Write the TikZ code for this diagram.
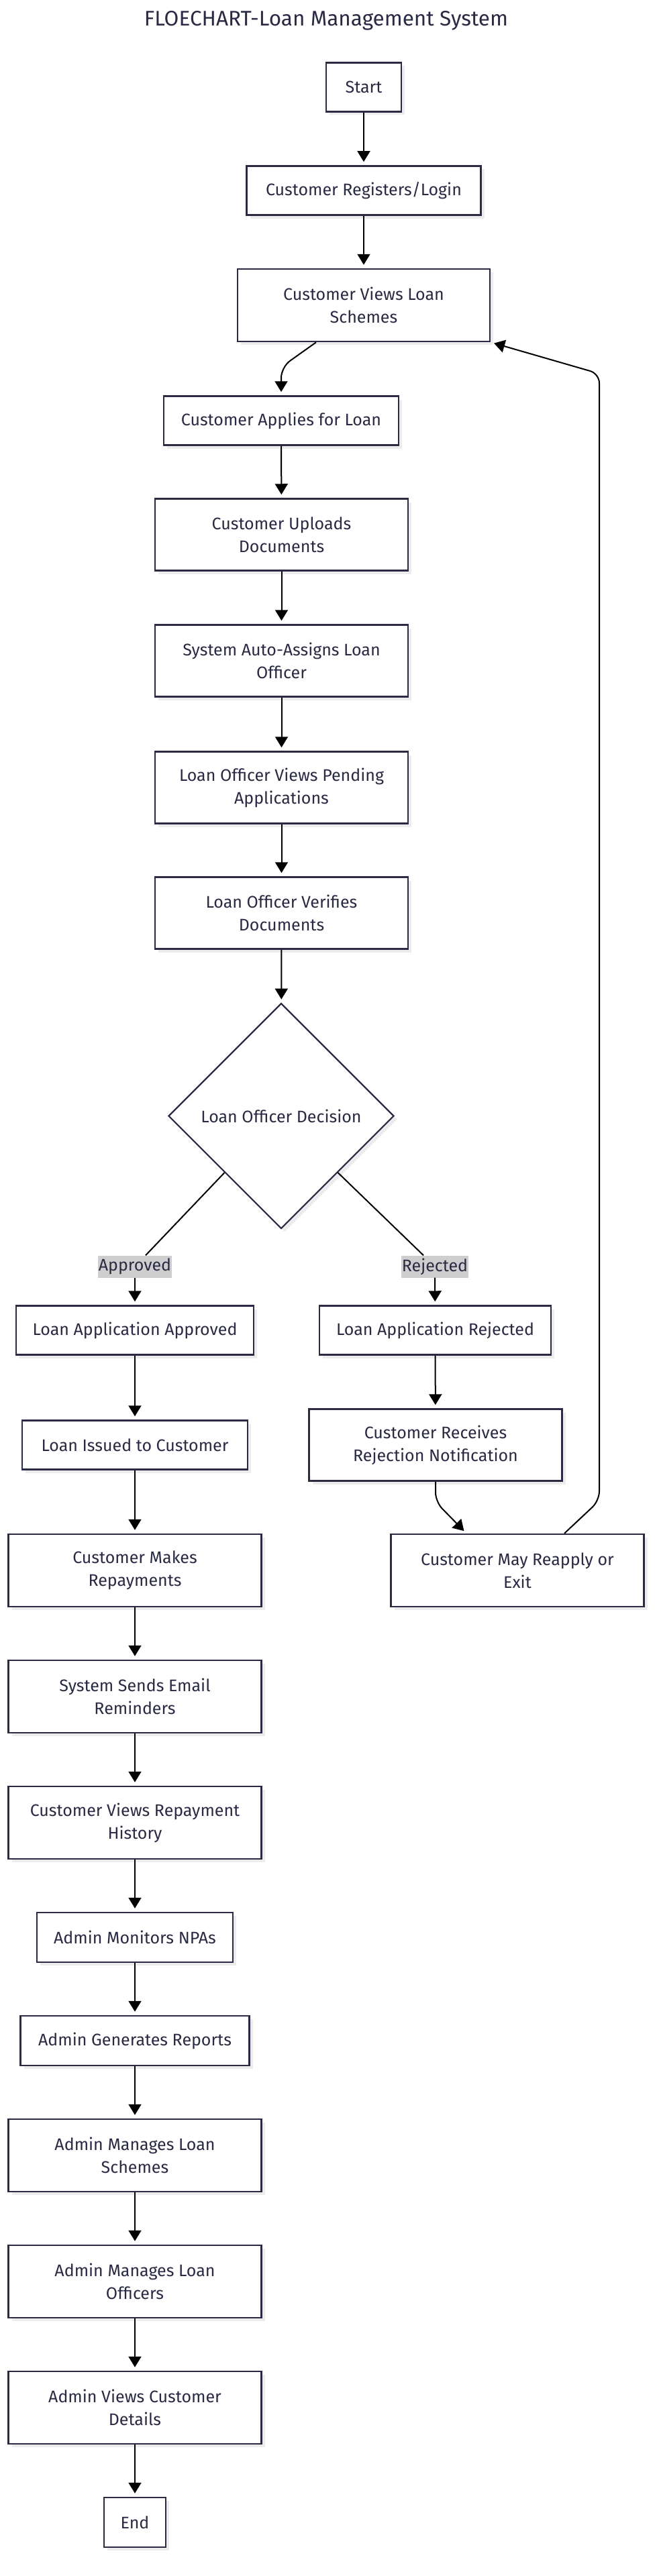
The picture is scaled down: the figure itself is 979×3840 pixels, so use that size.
\documentclass[tikz,border=0pt]{standalone}
\usepackage{fontspec}
\setmainfont{Fira Sans}
\usetikzlibrary{arrows.meta,shapes.geometric,shadows,calc}
\definecolor{ink}{RGB}{42,42,68}
\definecolor{shade}{RGB}{236,236,236}
\definecolor{lblbg}{RGB}{206,206,206}
\begin{document}
\begin{tikzpicture}[x=1pt,y=-1pt,
  txt/.style={font=\fontsize{25}{34}\selectfont, text=ink},
  box/.style={txt, draw=ink, line width=2.5pt, fill=white, align=center, inner sep=0pt,
    general shadow={shadow xshift=5pt, shadow yshift=-5pt, fill=shade}},
  bx/.style 2 args={box, minimum width=#1pt, minimum height=#2pt},
  lbl/.style={txt, fill=lblbg, inner xsep=1pt, inner ysep=0pt, minimum height=33pt},
  line/.style={draw=black, line width=2pt},
  conn/.style={line, -{Triangle[length=16pt,width=19pt]}, shorten >=5pt},
]
\fill[white] (0,0) rectangle (979,3840);
\useasboundingbox (0,0) rectangle (979,3840);

\node[font=\fontsize{31.5}{36}\selectfont, text=ink] (title) at (486,31) {FLOECHART-Loan Management System};

\node[bx={112}{73}] (start) at (542,130) {Start};
\node[bx={349}{73}] (reg) at (542,284) {Customer Registers/Login};
\node[bx={376}{108}] (views) at (542,455) {Customer Views Loan\\Schemes};
\node[bx={350}{73}] (apply) at (419,627) {Customer Applies for Loan};
\node[bx={377}{107}] (upload) at (419.5,797) {Customer Uploads\\Documents};
\node[bx={377}{107}] (assign) at (419.5,985) {System Auto-Assigns Loan\\Officer};
\node[bx={377}{107}] (pending) at (419.5,1174) {Loan Officer Views Pending\\Applications};
\node[bx={377}{107}] (verify) at (419.5,1361) {Loan Officer Verifies\\Documents};
\node[diamond, draw=ink, line width=2.2pt, fill=white, minimum width=336pt, minimum height=336pt,
  inner sep=0pt, txt, general shadow={shadow xshift=5pt, shadow yshift=-5pt, fill=shade}]
  (decision) at (419,1663.5) {Loan Officer Decision};

\node[lbl] (lblA) at (201,1888) {Approved};
\node[lbl] (lblR) at (648,1888) {Rejected};

\node[bx={354}{73}] (approved) at (201,1983) {Loan Application Approved};
\node[bx={345}{73}] (rejected) at (648.5,1983) {Loan Application Rejected};
\node[bx={336}{73}] (issued) at (201,2154) {Loan Issued to Customer};
\node[bx={377}{107}] (notify) at (649,2154) {Customer Receives\\Rejection Notification};
\node[bx={377}{108}] (repay) at (201,2341) {Customer Makes\\Repayments};
\node[bx={377}{108}] (reapply) at (771,2341) {Customer May Reapply or\\Exit};
\node[bx={377}{108}] (email) at (201,2529) {System Sends Email\\Reminders};
\node[bx={377}{108}] (history) at (201,2717) {Customer Views Repayment\\History};
\node[bx={292}{74}] (npa) at (201,2888) {Admin Monitors NPAs};
\node[bx={341}{74}] (reports) at (201,3042) {Admin Generates Reports};
\node[bx={377}{108}] (schemes) at (201,3213) {Admin Manages Loan\\Schemes};
\node[bx={377}{108}] (officers) at (201,3401) {Admin Manages Loan\\Officers};
\node[bx={377}{108}] (details) at (201,3589) {Admin Views Customer\\Details};
\node[bx={92}{74}] (end) at (201,3760) {End};

\coordinate (loopB) at (893,2237);
\coordinate (loopT) at (893,557);

\draw[conn] (start) -- (reg);
\draw[conn] (reg) -- (views);
\draw[conn, rounded corners=16pt] ($(views.south)+(-71,0)$) -- ($(apply.north)+(0,-42)$) -- (apply.north);
\draw[conn] (apply) -- (upload);
\draw[conn] (upload) -- (assign);
\draw[conn] (assign) -- (pending);
\draw[conn] (pending) -- (verify);
\draw[conn] (verify) -- (decision);
\draw[line] (decision.south west) -- ($(lblA.north)+(16,0)$);
\draw[line] (decision.south east) -- ($(lblR.north)+(-17,0)$);
\draw[conn] (lblA) -- (approved);
\draw[conn] (lblR) -- (rejected);
\draw[conn] (approved) -- (issued);
\draw[conn] (issued) -- (repay);
\draw[conn] (repay) -- (email);
\draw[conn] (email) -- (history);
\draw[conn] (history) -- (npa);
\draw[conn] (npa) -- (reports);
\draw[conn] (reports) -- (schemes);
\draw[conn] (schemes) -- (officers);
\draw[conn] (officers) -- (details);
\draw[conn] (details) -- (end);
\draw[conn] (rejected) -- (notify);
\draw[conn, rounded corners=14pt] (notify.south) -- ++(0,30) -- ($(reapply.north)+(-76,0)$);
\draw[conn, rounded corners=14pt] ($(reapply.north)+(70,0)$) -- (loopB) -- (loopT) -- (views.south east);
\end{tikzpicture}
\end{document}
